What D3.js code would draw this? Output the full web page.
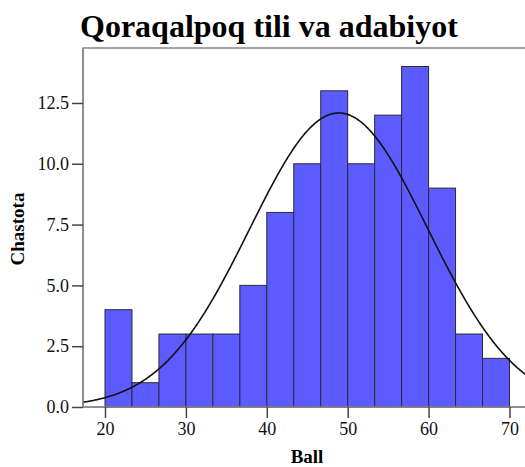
<!DOCTYPE html>
<html><head><meta charset="utf-8">
<script src="https://cdn.jsdelivr.net/npm/d3@7"></script>
<style>body{margin:0;background:#fff}svg{display:block}</style>
</head><body>
<script>
const title = "Qoraqalpoq tili va adabiyot";
const xLabel = "Ball";
const yLabel = "Chastota";
const binStart = 20;
const binWidth = 10 / 3;
const counts = [4, 1, 3, 3, 3, 5, 8, 10, 13, 10, 12, 14, 9, 3, 2];
const xTicks = [20, 30, 40, 50, 60, 70];
const yTicks = [0, 2.5, 5, 7.5, 10, 12.5];
const fitMean = 48.9;
const fitSd = 11.0;

const W = 525, H = 467;
const svg = d3.select("body").append("svg").attr("width", W).attr("height", H);
const x = d3.scaleLinear().domain([17.28, 71.92]).range([83, 525]);
const y = d3.scaleLinear().domain([0, 14.76]).range([407, 48]);
const font = "Liberation Serif, Tinos, Times New Roman, DejaVu Serif, Noto Serif, serif";

svg.append("rect").attr("x", 83).attr("y", 48).attr("width", 460).attr("height", 359)
  .attr("fill", "none").attr("stroke", "#888").attr("stroke-width", 1.5);

const bins = counts.map((c, i) => ({x0: binStart + i * binWidth, x1: binStart + (i + 1) * binWidth, c}));
svg.append("g").selectAll("rect").data(bins).join("rect")
  .attr("x", d => x(d.x0)).attr("width", d => x(d.x1) - x(d.x0))
  .attr("y", d => y(d.c)).attr("height", d => y(0) - y(d.c))
  .attr("fill", "#5b5bff").attr("stroke", "#2a2a3a").attr("stroke-width", 1);

const total = d3.sum(counts);
const peak = total * binWidth / (fitSd * Math.sqrt(2 * Math.PI));
const xs = d3.range(17.28, 72.0, 0.1);
const line = d3.line().x(d => x(d)).y(d => y(peak * Math.exp(-0.5 * ((d - fitMean) / fitSd) ** 2)));
svg.append("path").datum(xs).attr("d", line).attr("fill", "none").attr("stroke", "#111").attr("stroke-width", 1.6);

const yAxis = d3.axisLeft(y).tickValues(yTicks).tickFormat(d3.format(".1f")).tickSize(11).tickPadding(3);
const gy = svg.append("g").attr("transform", "translate(83,0)").call(yAxis);
const xAxis = d3.axisBottom(x).tickValues(xTicks).tickFormat(d3.format("d")).tickSize(11).tickPadding(4);
const gx = svg.append("g").attr("transform", "translate(0,407)").call(xAxis);
[gx, gy].forEach(g => {
  g.attr("font-family", font).attr("font-size", 18);
  g.select(".domain").attr("stroke", "#888").attr("stroke-width", 1.5);
  g.selectAll(".tick line").attr("stroke", "#444").attr("stroke-width", 1.5);
  g.selectAll(".tick text").attr("fill", "#111");
});
gx.select(".domain").attr("d", "M83,0H525");
gy.select(".domain").attr("d", "M0,48V407");

svg.append("text").attr("x", 80).attr("y", 37).text(title)
  .attr("font-family", font).attr("font-weight", "bold").attr("font-size", 32).attr("fill", "#000");
svg.append("text").attr("x", 307).attr("y", 463).attr("text-anchor", "middle").text(xLabel)
  .attr("font-family", font).attr("font-weight", "bold").attr("font-size", 19);
svg.append("text").attr("transform", "translate(24,229) rotate(-90)").attr("text-anchor", "middle").text(yLabel)
  .attr("font-family", font).attr("font-weight", "bold").attr("font-size", 19);
</script>
</body></html>
